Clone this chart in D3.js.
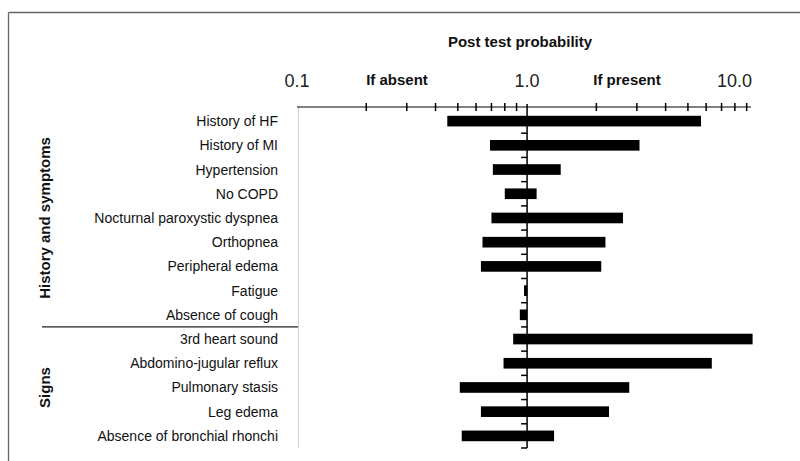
<!DOCTYPE html>
<html>
<head>
<meta charset="utf-8">
<script src="https://cdn.jsdelivr.net/npm/d3@7"></script>
<style>
	body { margin: 0; background: #fff; }
	svg { display: block; font-family: "Liberation Sans", Arial, sans-serif; }
</style>
</head>
<body>
<svg id="chart"></svg>
<script>
const width = 800;
const height = 461;

// rows, top to bottom
const categories = ["History of HF", "History of MI", "Hypertension", "No COPD",
	"Nocturnal paroxystic dyspnea", "Orthopnea", "Peripheral edema", "Fatigue",
	"Absence of cough", "3rd heart sound", "Abdomino-jugular reflux",
	"Pulmonary stasis", "Leg edema", "Absence of bronchial rhonchi"];
// likelihood ratio if absent (left end) and if present (right end)
const ifAbsent = [0.45, 0.69, 0.71, 0.80, 0.70, 0.64, 0.63, 0.97, 0.93, 0.87, 0.79, 0.51, 0.63, 0.52];
const ifPresent = [5.7, 3.08, 1.40, 1.10, 2.61, 2.19, 2.10, 1.0, 1.0, 9.55, 6.35, 2.78, 2.27, 1.31];
const groups = [
	{name: "History and symptoms", first: 0, last: 8},
	{name: "Signs", first: 9, last: 13}
];
const tickLabels = [{v: 0.1, t: "0.1"}, {v: 1, t: "1.0"}, {v: 9.4, t: "10.0"}];
const minorTicks = [0.2, 0.3, 0.4, 0.5, 0.6, 0.7, 0.8, 0.9, 2, 3, 4, 5, 6, 7, 8, 9];

const svg = d3.select("#chart")
	.attr("width", width)
	.attr("height", height);

const x = d3.scaleLog()
	.domain([0.1, 9.4])
	.range([297, 751]);

const y = d3.scaleBand()
	.domain(categories)
	.range([109, 448])
	.paddingInner(0.56)
	.paddingOuter(0.28);

const axisY = 107;

// frame (top and left only)
svg.append("line")
	.attr("x1", 8.5).attr("x2", width).attr("y1", 12.5).attr("y2", 12.5)
	.attr("stroke", "#666").attr("stroke-width", 1.3);
svg.append("line")
	.attr("x1", 8.5).attr("x2", 8.5).attr("y1", 12.5).attr("y2", height)
	.attr("stroke", "#666").attr("stroke-width", 1.3);

// light divider right of the labels
svg.append("line")
	.attr("x1", 298.5).attr("x2", 298.5).attr("y1", axisY).attr("y2", 448)
	.attr("stroke", "#d0d0d0");

// title
svg.append("text")
	.attr("x", 520).attr("y", 47)
	.attr("text-anchor", "middle")
	.attr("font-weight", "bold")
	.attr("font-size", 15)
	.attr("fill", "#111")
	.text("Post test probability");

// bars
svg.selectAll("rect.bar")
	.data(categories)
	.enter()
	.append("rect")
	.attr("class", "bar")
	.attr("x", function(d, i) { return x(ifAbsent[i]) })
	.attr("y", function(d) { return y(d) })
	.attr("width", function(d, i) { return x(ifPresent[i]) - x(ifAbsent[i]) })
	.attr("height", y.bandwidth())
	.attr("fill", "#000");

// horizontal axis
svg.append("line")
	.attr("x1", x(0.1)).attr("x2", x.range()[1])
	.attr("y1", axisY).attr("y2", axisY)
	.attr("stroke", "#000").attr("stroke-width", 1.2);

svg.selectAll("line.minor")
	.data(minorTicks)
	.enter()
	.append("line")
	.attr("class", "minor")
	.attr("x1", function(d) { return x(d) })
	.attr("x2", function(d) { return x(d) })
	.attr("y1", axisY - 4).attr("y2", axisY + 4)
	.attr("stroke", "#000").attr("stroke-width", 1.5);

svg.selectAll("text.tick")
	.data(tickLabels)
	.enter()
	.append("text")
	.attr("class", "tick")
	.attr("x", function(d) { return d.v > 5 ? x(d.v) + 1 : x(d.v) })
	.attr("y", 87)
	.attr("text-anchor", function(d) { return d.v > 5 ? "end" : "middle" })
	.attr("font-size", 18)
	.attr("fill", "#222")
	.text(function(d) { return d.t });

svg.append("text")
	.attr("x", 397).attr("y", 85)
	.attr("text-anchor", "middle")
	.attr("font-weight", "bold").attr("font-size", 15)
	.attr("fill", "#111")
	.text("If absent");
svg.append("text")
	.attr("x", 627).attr("y", 85)
	.attr("text-anchor", "middle")
	.attr("font-weight", "bold").attr("font-size", 15)
	.attr("fill", "#111")
	.text("If present");

// vertical axis at 1.0
const x1 = x(1);
svg.append("line")
	.attr("x1", x1).attr("x2", x1)
	.attr("y1", axisY - 3).attr("y2", y.range()[1])
	.attr("stroke", "#000").attr("stroke-width", 1.5);

const step = y.step();
svg.selectAll("line.ytick")
	.data(categories)
	.enter()
	.append("line")
	.attr("class", "ytick")
	.attr("x1", x1 - 6).attr("x2", x1)
	.attr("y1", function(d) { return y(d) - y.paddingOuter() * step + step })
	.attr("y2", function(d) { return y(d) - y.paddingOuter() * step + step })
	.attr("stroke", "#000").attr("stroke-width", 1.5);

// row labels
svg.selectAll("text.label")
	.data(categories)
	.enter()
	.append("text")
	.attr("class", "label")
	.attr("x", 278)
	.attr("y", function(d) { return y(d) + y.bandwidth() / 2 + 5 })
	.attr("text-anchor", "end")
	.attr("font-size", 14)
	.attr("fill", "#111")
	.text(function(d) { return d });

// group separator and labels
const sepY = y(categories[9]) - (step - y.bandwidth()) / 2;
svg.append("line")
	.attr("x1", 42).attr("x2", 298)
	.attr("y1", sepY).attr("y2", sepY)
	.attr("stroke", "#222").attr("stroke-width", 1.2);

svg.selectAll("text.group")
	.data(groups)
	.enter()
	.append("text")
	.attr("class", "group")
	.attr("transform", function(d) {
		const cy = (y(categories[d.first]) + y(categories[d.last]) + y.bandwidth()) / 2;
		return "translate(50," + cy + ") rotate(-90)";
	})
	.attr("text-anchor", "middle")
	.attr("font-weight", "bold")
	.attr("font-size", 15)
	.attr("fill", "#111")
	.text(function(d) { return d.name });
</script>
</body>
</html>
